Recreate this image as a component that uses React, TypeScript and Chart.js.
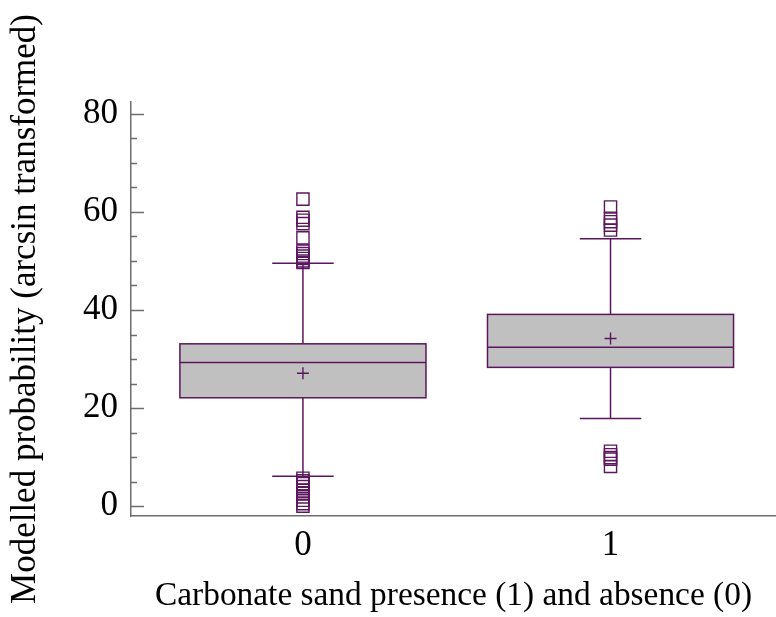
import React, { useEffect, useRef } from 'react';
import { Chart, registerables } from 'chart.js';

Chart.register(...registerables);

const categories = ['0', '1'];
const q1Values = [22.1, 28.3];
const medianValues = [29.3, 32.4];
const q3Values = [33.1, 39.1];
const meanValues = [27.1, 34.2];
const whiskerLow = [6.1, 17.9];
const whiskerHigh = [49.55, 54.5];
const outliers0 = [
  62.6, 58.9, 58.3, 57.6, 54.7, 52.0, 51.5, 51.0, 50.5, 50.0, 49.7,
  5.7, 5.2, 4.6, 4.0, 3.3, 2.6, 1.9, 1.2, 0.5, 0.0,
];
const outliers1 = [61.0, 58.7, 58.0, 57.3, 56.3, 11.2, 10.5, 9.9, 9.6, 8.1];
const yTickValues = [0, 20, 40, 60, 80];
const minorTickValues = [0, 5, 10, 15, 20, 25, 30, 35, 40, 45, 50, 55, 60, 65, 70, 75, 80];

const PURPLE = '#5b175e';
const AXIS_GRAY = '#6e6e6e';
const BOX_WIDTH = 0.8;
const CAP_WIDTH = 0.2;
const FONT = 'Liberation Serif, Times New Roman, serif';

const boxPlugin = {
  id: 'boxPlot',
  beforeDatasetsDraw(chart: any) {
    const { ctx, scales, chartArea } = chart;
    const x = scales.x;
    const y = scales.y;
    ctx.save();
    ctx.strokeStyle = AXIS_GRAY;
    ctx.lineWidth = 1.3;
    ctx.beginPath();
    minorTickValues.forEach((v) => {
      const py = Math.round(y.getPixelForValue(v)) + 0.5;
      const len = yTickValues.includes(v) ? 13 : 6;
      ctx.moveTo(chartArea.left, py);
      ctx.lineTo(chartArea.left + len, py);
    });
    ctx.stroke();

    ctx.strokeStyle = PURPLE;
    ctx.lineWidth = 1.5;
    categories.forEach((_c, i) => {
      const cx = x.getPixelForValue(i);
      const half = x.getPixelForValue(i + BOX_WIDTH / 2) - cx;
      const capHalf = x.getPixelForValue(i + CAP_WIDTH / 2) - cx;
      const yq1 = y.getPixelForValue(q1Values[i]);
      const yq3 = y.getPixelForValue(q3Values[i]);
      const ymed = y.getPixelForValue(medianValues[i]);
      const ylo = y.getPixelForValue(whiskerLow[i]);
      const yhi = y.getPixelForValue(whiskerHigh[i]);
      ctx.beginPath();
      ctx.moveTo(cx, yq3);
      ctx.lineTo(cx, yhi);
      ctx.moveTo(cx - capHalf, yhi);
      ctx.lineTo(cx + capHalf, yhi);
      ctx.moveTo(cx, yq1);
      ctx.lineTo(cx, ylo);
      ctx.moveTo(cx - capHalf, ylo);
      ctx.lineTo(cx + capHalf, ylo);
      ctx.stroke();
      ctx.fillStyle = '#c0c0c0';
      ctx.fillRect(cx - half, yq3, 2 * half, yq1 - yq3);
      ctx.strokeRect(cx - half, yq3, 2 * half, yq1 - yq3);
      ctx.beginPath();
      ctx.moveTo(cx - half, ymed);
      ctx.lineTo(cx + half, ymed);
      ctx.stroke();
    });
    ctx.restore();
  },
};

export default function App() {
  const canvasRef = useRef<HTMLCanvasElement | null>(null);

  useEffect(() => {
    if (!canvasRef.current) return;
    const outlierPoints = [
      ...outliers0.map((v) => ({ x: 0, y: v })),
      ...outliers1.map((v) => ({ x: 1, y: v })),
    ];
    const meanPoints = meanValues.map((v, i) => ({ x: i, y: v }));
    const chart = new Chart(canvasRef.current, {
      type: 'scatter',
      data: {
        datasets: [
          {
            label: 'Outliers',
            data: outlierPoints,
            pointStyle: 'rect',
            pointRadius: 8.6,
            pointBorderWidth: 1.4,
            pointBorderColor: PURPLE,
            pointBackgroundColor: 'rgba(0,0,0,0)',
          },
          {
            label: 'Mean',
            data: meanPoints,
            pointStyle: 'cross',
            pointRadius: 6,
            pointBorderWidth: 1.4,
            pointBorderColor: PURPLE,
            pointBackgroundColor: PURPLE,
          },
        ],
      },
      options: {
        animation: false,
        responsive: false,
        events: [],
        layout: { autoPadding: false, padding: { top: 102, left: 0, right: 0, bottom: 0 } },
        plugins: { legend: { display: false }, tooltip: { enabled: false } },
        scales: {
          x: {
            type: 'linear',
            min: -0.559,
            max: 1.538,
            afterBuildTicks: (scale: any) => {
              scale.ticks = categories.map((_c, i) => ({ value: i }));
            },
            afterFit: (scale: any) => {
              scale.height = 101;
              scale.paddingLeft = 0;
              scale.paddingRight = 0;
            },
            ticks: {
              callback: (v: any) => categories[Math.round(Number(v))],
              font: { family: FONT, size: 35 },
              color: '#000',
              padding: 9,
              maxRotation: 0,
              autoSkip: false,
            },
            grid: { display: false, drawTicks: false },
            border: { display: true, color: AXIS_GRAY, width: 1.5 },
            title: {
              display: true,
              text: 'Carbonate sand presence (1) and absence (0)',
              font: { family: FONT, size: 33.4, lineHeight: 1 },
              color: '#000',
              padding: { top: 0, bottom: 4.5 },
            },
          },
          y: {
            type: 'linear',
            min: -2.0,
            max: 82.4,
            afterBuildTicks: (scale: any) => {
              scale.ticks = yTickValues.map((v) => ({ value: v }));
            },
            afterFit: (scale: any) => {
              scale.width = 131;
              scale.paddingTop = 0;
              scale.paddingBottom = 0;
            },
            ticks: {
              font: { family: FONT, size: 35 },
              color: '#000',
              padding: 13,
            },
            grid: { display: false, drawTicks: false },
            border: { display: true, color: AXIS_GRAY, width: 1.5 },
            title: {
              display: true,
              text: 'Modelled probability (arcsin transformed)',
              font: { family: FONT, size: 35, lineHeight: 1 },
              color: '#000',
              padding: { top: 8.5, bottom: 0 },
            },
          },
        },
      },
      plugins: [boxPlugin],
    });
    return () => chart.destroy();
  }, []);

  return (
    <div style={{ position: 'absolute', left: 0, top: 0, width: 776, height: 617, background: '#fff' }}>
      <canvas ref={canvasRef} width={776} height={617} style={{ display: 'block' }} />
    </div>
  );
}
